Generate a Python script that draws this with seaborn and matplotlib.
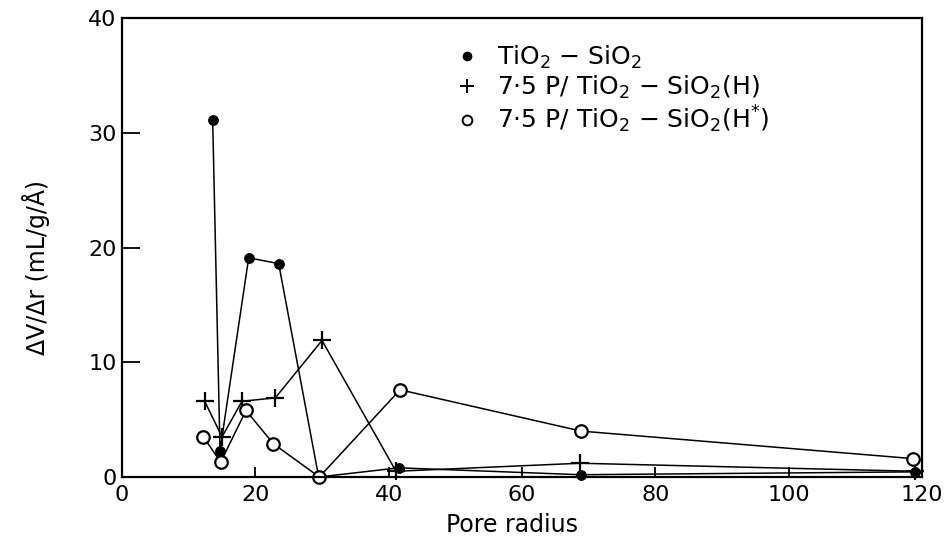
import matplotlib
matplotlib.use("Agg")
import matplotlib.pyplot as plt
from matplotlib.lines import Line2D
import seaborn as sns
import pandas as pd

# Pore size distributions (dV/dr vs pore radius)
radius_tio2_sio2 = [13.6, 14.7, 19.0, 23.5, 29.5, 41.5, 68.8, 119.0]
dvdr_tio2_sio2 = [31.1, 2.3, 19.1, 18.6, 0.0, 0.8, 0.2, 0.45]

radius_p_h = [12.4, 15.0, 18.0, 23.0, 30.0, 41.1, 68.7, 119.0]
dvdr_p_h = [6.6, 3.5, 6.6, 6.9, 11.9, 0.5, 1.2, 0.5]

radius_p_hstar = [12.2, 14.8, 18.6, 22.7, 29.6, 41.7, 68.9, 118.7]
dvdr_p_hstar = [3.5, 1.3, 5.8, 2.9, 0.0, 7.6, 4.0, 1.6]

series_labels = [
    r"TiO$_2$ $-$ SiO$_2$",
    r"7$\cdot$5 P/ TiO$_2$ $-$ SiO$_2$(H)",
    r"7$\cdot$5 P/ TiO$_2$ $-$ SiO$_2$(H$^{*}$)",
]

x_ticks = [0, 20, 40, 60, 80, 100, 120]
y_ticks = [0, 10, 20, 30, 40]

sns.set_theme(style="ticks", rc={
    "xtick.color": "black", "ytick.color": "black",
    "axes.labelcolor": "black", "text.color": "black",
    "axes.edgecolor": "black",
})
plt.rcParams["font.family"] = ["DejaVu Sans"]
plt.rcParams["mathtext.fontset"] = "dejavusans"

fig = plt.figure(figsize=(9.51, 5.39), dpi=100)
ax = fig.add_axes([0.1283, 0.115, 0.8412, 0.8516])

df1 = pd.DataFrame({"r": radius_tio2_sio2, "v": dvdr_tio2_sio2})
df2 = pd.DataFrame({"r": radius_p_h, "v": dvdr_p_h})
df3 = pd.DataFrame({"r": radius_p_hstar, "v": dvdr_p_hstar})

common = dict(ax=ax, color="black", linewidth=1.1, sort=False, clip_on=False,
              estimator=None)
sns.lineplot(data=df1, x="r", y="v", marker="o", markersize=7,
             markerfacecolor="black", markeredgecolor="black", **common)
sns.lineplot(data=df2, x="r", y="v", marker="+", markersize=13,
             markeredgewidth=1.6, markeredgecolor="black", **common)
sns.lineplot(data=df3, x="r", y="v", marker="o", markersize=9,
             markerfacecolor="white", markeredgecolor="black",
             markeredgewidth=1.6, **common)

ax.set_xlim(0, 120)
ax.set_ylim(0, 40)
ax.set_xticks(x_ticks)
ax.set_yticks(y_ticks)
ax.set_xticklabels([str(t) for t in x_ticks], fontsize=16)
ax.set_yticklabels([str(t) for t in y_ticks], fontsize=16)
ax.tick_params(axis="x", direction="in", length=7, width=1.3, pad=6,
               colors="black")
ax.tick_params(axis="y", direction="in", length=13, width=1.3, pad=4,
               colors="black")
for s in ax.spines.values():
    s.set_linewidth(1.6)
    s.set_color("black")

ax.set_xlabel("Pore radius", fontsize=17)
ax.set_ylabel("ΔV/Δr (mL/g/Å)", fontsize=17)
ax.xaxis.set_label_coords(0.4875, -0.078)
ax.yaxis.set_label_coords(-0.09, 0.457)

handles = [
    Line2D([], [], linestyle="none", marker="o", markersize=6,
           markerfacecolor="black", markeredgecolor="black"),
    Line2D([], [], linestyle="none", marker="+", markersize=10,
           markeredgewidth=1.4, markeredgecolor="black"),
    Line2D([], [], linestyle="none", marker="o", markersize=7,
           markerfacecolor="white", markeredgecolor="black",
           markeredgewidth=1.4),
]
ax.legend(handles, series_labels, loc="upper left",
          bbox_to_anchor=(0.415, 0.943), frameon=False, fontsize=18,
          borderpad=0, borderaxespad=0, handletextpad=0.7,
          labelspacing=0.1, handlelength=1.0)

fig.savefig("out.png", dpi=100)
